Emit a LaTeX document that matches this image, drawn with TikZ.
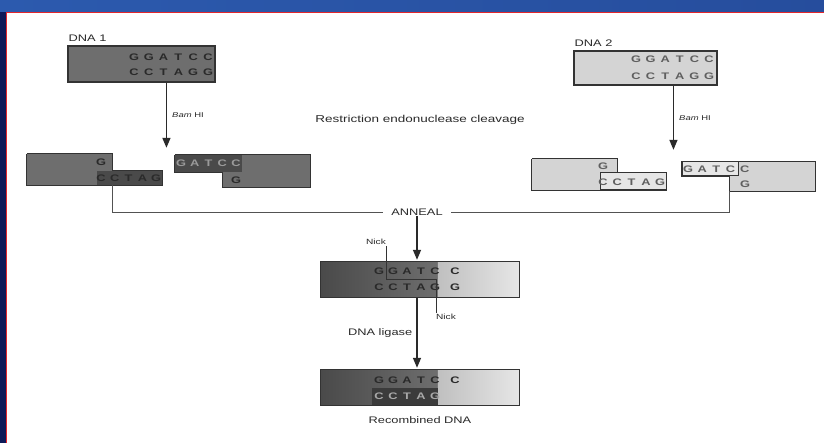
\documentclass[tikz,border=0pt]{standalone}
\usepackage{fontspec}
\setmainfont{Liberation Sans}[FakeStretch=1.35]
\usetikzlibrary{arrows.meta, positioning, calc}
\definecolor{DNAdark}{HTML}{6E6E6E}
\definecolor{DNAdeep}{HTML}{4A4A4A}
\definecolor{DNAlight}{HTML}{D4D4D4}
\definecolor{DNApale}{HTML}{E6E6E6}
\definecolor{DNAink}{HTML}{2A2A2A}
\definecolor{DNAline}{HTML}{333333}
\definecolor{SLnavy}{HTML}{0E1A58}
\definecolor{SLblue}{HTML}{2C5AAE}
\definecolor{SLred}{HTML}{E2262C}
\tikzset{
  dnabox/.style={rectangle, draw=DNAline, line width=1.1pt, inner sep=0pt, fill=DNAdark},
  dnaboxlt/.style={dnabox, fill=DNAlight},
  fragdk/.style={rectangle, inner sep=0pt, fill=DNAdark},
  fraglt/.style={rectangle, inner sep=0pt, fill=DNAlight},
  enddk/.style={rectangle, inner sep=0pt, fill=DNAdeep},
  endlt/.style={rectangle, inner sep=0pt, fill=DNApale, draw=DNAline, line width=1pt},
  fragline/.style={draw=DNAline, line width=1.1pt},
  base/.style={font=\fontsize{9.5}{10}\selectfont\bfseries, text=DNAink, inner sep=0pt},
  baselt/.style={base, text=DNAink!75},
  lbl/.style={font=\fontsize{9.5}{11}\selectfont, text=DNAink, inner sep=1pt},
  bam/.style={lbl, font=\fontsize{7}{8}\selectfont},
  nick/.style={lbl, font=\fontsize{7.5}{8}\selectfont},
  dnaarr/.style={-{Triangle[length=10pt,width=8pt]}, line width=1.5pt, draw=DNAink},
  bracket/.style={line width=0.9pt, draw=DNAline!85},
  nickln/.style={line width=0.8pt, draw=DNAline},
}
\begin{document}
\begin{tikzpicture}[x=1pt, y=-1pt]
  \useasboundingbox (0,0) rectangle (824,443);
  % slide frame
  \fill[white] (0,0) rectangle (824,443);
  \shade[left color=SLblue, middle color=SLnavy, right color=SLblue!80!SLnavy] (0,0) rectangle (824,12);
  \fill[SLnavy] (0,12) rectangle (6,443);
  \draw[SLred, line width=1.2pt] (824,12.5) -| (6.5,443);

  % parent molecules
  \node[dnabox, minimum width=147pt, minimum height=36pt] (dnaA) at (141.5,64) {};
  \node[lbl, anchor=south west] (dnaAlbl) at ([yshift=3pt]dnaA.north west) {DNA 1};
  \node[dnaboxlt, minimum width=143pt, minimum height=34pt] (dnaB) at (645.5,68) {};
  \node[lbl, anchor=south west] (dnaBlbl) at ([yshift=3pt]dnaB.north west) {DNA 2};
  \foreach \b [count=\i from 0] in {G,G,A,T,C,C}
    \node[base] (dnaAt\i) at (134+14.8*\i,57) {\b};
  \foreach \b [count=\i from 0] in {C,C,T,A,G,G}
    \node[base] (dnaAb\i) at (134+14.8*\i,72) {\b};
  \foreach \b [count=\i from 0] in {G,G,A,T,C,C}
    \node[baselt] (dnaBt\i) at (636+14.6*\i,59) {\b};
  \foreach \b [count=\i from 0] in {C,C,T,A,G,G}
    \node[baselt] (dnaBb\i) at (636+14.6*\i,76) {\b};

  \node[lbl, font=\fontsize{10}{12}\selectfont] (cleave) at (420,120) {Restriction endonuclease cleavage};

  % fragments of DNA 1
  \node[fragdk, minimum width=85pt, minimum height=31pt] (cutAl) at (69.5,169.5) {};
  \node[enddk, minimum width=65pt, minimum height=14pt] (endAl) at (129.5,178) {};
  \draw[fragline] (cutAl.north west) -| (cutAl.east |- endAl.north) -| (endAl.south east) -| (cutAl.north west);
  \node[fragdk, minimum width=87pt, minimum height=32pt] (cutAr) at (266.5,171) {};
  \node[enddk, minimum width=67pt, minimum height=17pt] (endAr) at (208.5,163.5) {};
  \draw[fragline] (endAr.north west) -| (cutAr.south east) -| (cutAr.west |- endAr.south) -| (endAr.north west);
  \node[base] (cutAlt) at (101,162) {G};
  \foreach \b [count=\i from 0] in {C,C,T,A,G}
    \node[base] (cutAlb\i) at (101+13.8*\i,178) {\b};
  \foreach \b [count=\i from 0] in {G,A,T,C,C}
    \node[base, text=DNAdark!70] (cutArt\i) at (181+13.75*\i,163) {\b};
  \node[base] (cutArb) at (236,180) {G};

  % fragments of DNA 2
  \node[fraglt, minimum width=85pt, minimum height=31pt] (cutBl) at (574.5,174.5) {};
  \node[endlt, minimum width=66pt, minimum height=17pt] (endBl) at (633,181.5) {};
  \draw[fragline] (cutBl.north west) -| (cutBl.east |- endBl.north) -| (endBl.south east) -| (cutBl.north west);
  \node[fraglt, minimum width=85pt, minimum height=29pt] (cutBr) at (772.5,176.5) {};
  \node[endlt, minimum width=56pt, minimum height=14pt] (endBr) at (710,169) {};
  \draw[fragline] (endBr.north west) -| (cutBr.south east) -| (cutBr.west |- endBr.south) -| (endBr.north west);
  \node[baselt] (cutBlt) at (603,166) {G};
  \foreach \b [count=\i from 0] in {C,C,T,A,G}
    \node[baselt] (cutBlb\i) at (603+14.3*\i,182) {\b};
  \foreach \b [count=\i from 0] in {G,A,T,C,C}
    \node[baselt] (cutBrt\i) at (688+14.2*\i,169) {\b};
  \node[baselt] (cutBrb) at (745,184) {G};

  % cleavage arrows
  \coordinate (cutA) at ($(dnaA.south west)+(99,0)$);
  \coordinate (cutB) at ($(dnaB.south west)+(100,0)$);
  \draw[dnaarr, shorten >=7pt] (cutA) -- (cutA |- endAr.north) node[bam, pos=0.45, right=4pt] {\textit{Bam} HI};
  \draw[dnaarr, shorten >=9pt] (cutB) -- (cutB |- cutBl.north) node[bam, pos=0.45, right=4pt] {\textit{Bam} HI};

  % annealing
  \node[lbl, inner xsep=8pt] (anneal) at (417,212) {ANNEAL};
  \draw[bracket] (cutAl.south east) |- (anneal.west);
  \draw[bracket] (cutBr.south west) |- (anneal.east);

  % hybrid molecule
  \node[rectangle, inner sep=0pt, minimum width=198pt, minimum height=35pt] (hybrid) at (420,279.5) {};
  \shade[left color=DNAdeep, right color=DNAdark] (hybrid.north west) rectangle ($(hybrid.south west)+(117,0)$);
  \shade[left color=DNAlight!80!DNAdark, right color=DNApale] ($(hybrid.north west)+(117,0)$) rectangle (hybrid.south east);
  \draw[fragline] (hybrid.north west) rectangle (hybrid.south east);
  \draw[dnaarr, shorten >=2pt] (anneal.south) -- (anneal.south |- hybrid.north);
  \foreach \b/\x [count=\i from 0] in {G/379,G/393,A/407,T/421,C/435,C/455}
    \node[base] (hybt\i) at (\x,271) {\b};
  \foreach \b/\x [count=\i from 0] in {C/379,C/393,T/407,A/421,G/435,G/455}
    \node[base] (hybb\i) at (\x,287) {\b};
  \node[nick] (nickup) at (376,242) {Nick};
  \node[nick] (nicklo) at (446,317) {Nick};
  \coordinate (nickT) at ($(hybrid.north west)+(66,0)$);
  \coordinate (nickB) at ($(hybrid.south west)+(116,0)$);
  \draw[nickln] (nickup.south -| nickT) -- (nickT |- hybrid.center) -| (nickB) -- (nicklo.north -| nickB);

  % recombined molecule
  \node[rectangle, inner sep=0pt, minimum width=198pt, minimum height=35pt] (recomb) at (420,387.5) {};
  \shade[left color=DNAdeep, right color=DNAdark] (recomb.north west) rectangle ($(recomb.south west)+(117,0)$);
  \shade[left color=DNAlight!80!DNAdark, right color=DNApale] ($(recomb.north west)+(117,0)$) rectangle (recomb.south east);
  \fill[DNAdeep!80!black] ($(recomb.west)+(51,0)$) rectangle ($(recomb.south west)+(117,0)$);
  \draw[fragline] (recomb.north west) rectangle (recomb.south east);
  \foreach \b/\x [count=\i from 0] in {G/379,G/393,A/407,T/421,C/435,C/455}
    \node[base] (rect\i) at (\x,380) {\b};
  \foreach \b/\x [count=\i from 0] in {C/379,C/393,T/407,A/421,G/435}
    \node[base, text=DNAdark!60] (recb\i) at (\x,396) {\b};
  \coordinate (ligase) at (417,0);
  \draw[dnaarr, shorten >=2pt, shorten <=1pt] (hybrid.south -| ligase) -- (recomb.north -| ligase) node[lbl, midway, left=3pt] {DNA ligase};
  \node[lbl, below=10pt of recomb] (recomblbl) {Recombined DNA};
\end{tikzpicture}
\end{document}
